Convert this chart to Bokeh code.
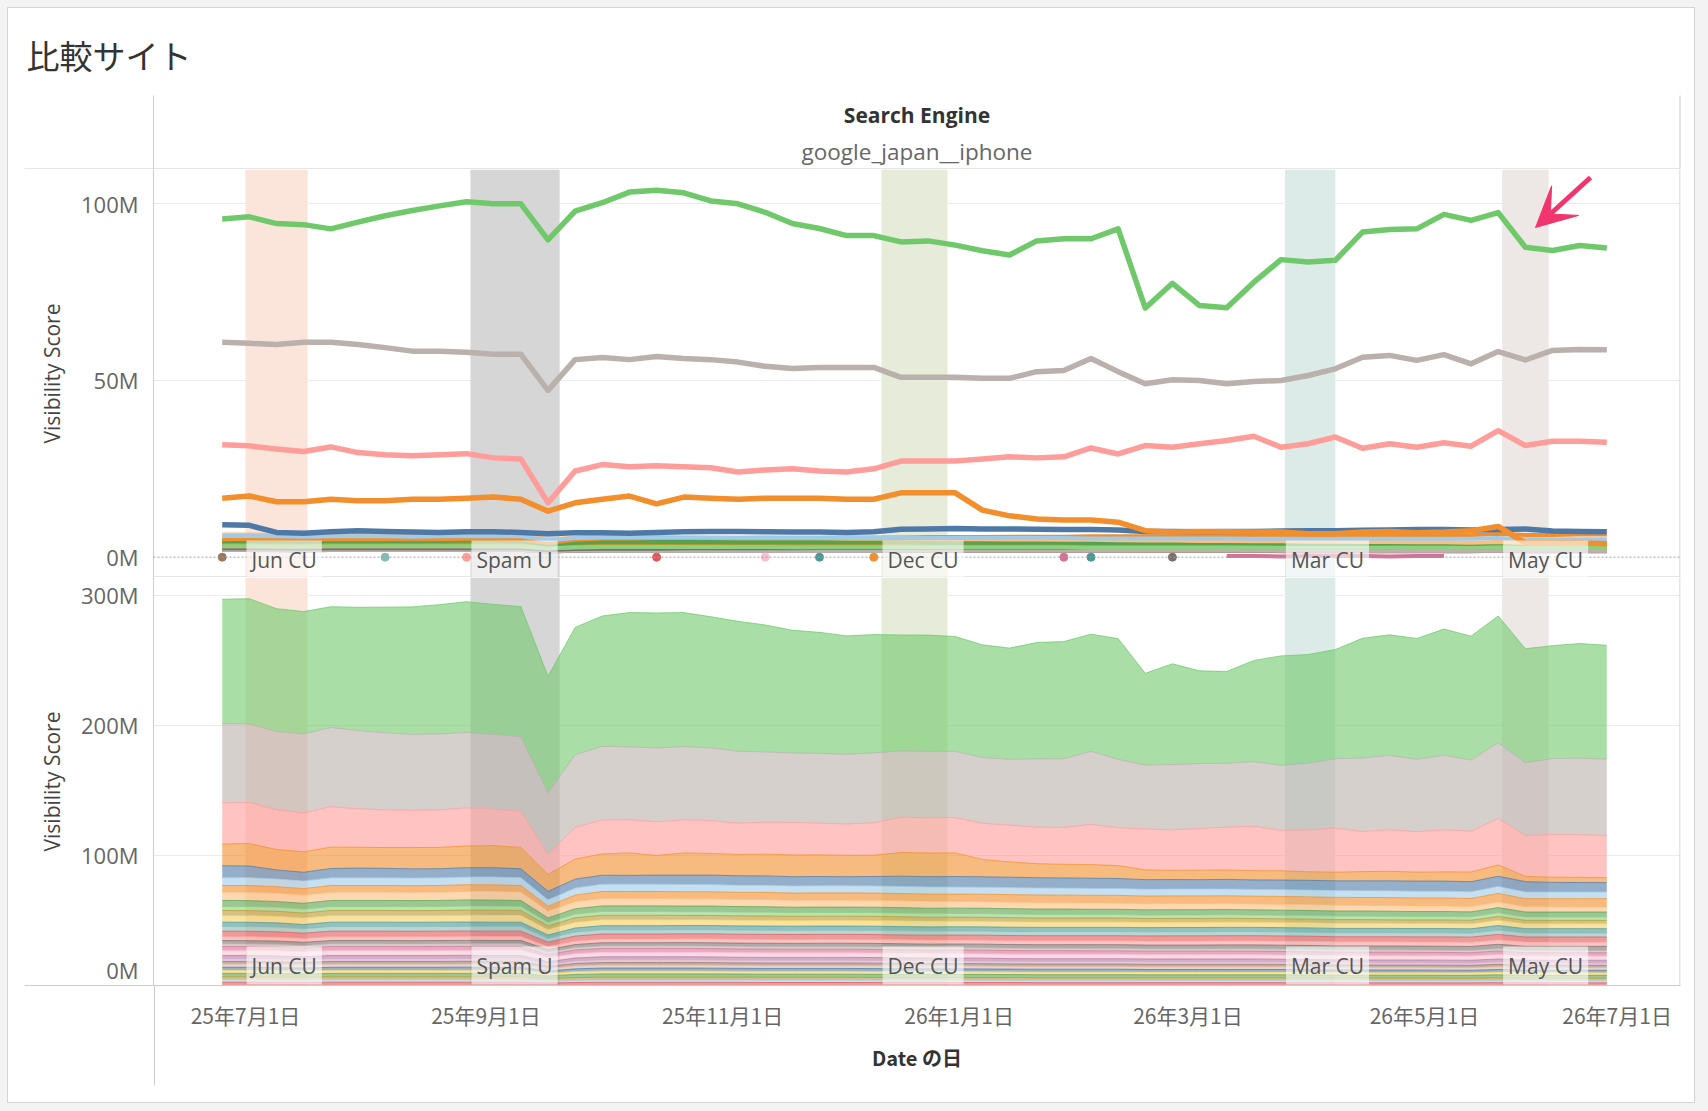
import pandas as pd
from bokeh.plotting import figure
from bokeh.models import (ColumnDataSource, BoxAnnotation, Label, Arrow, FixedTicker,
                          CustomJSTickFormatter, Range1d, Span, VeeHead)
from bokeh.layouts import column
from bokeh.embed import file_html
from bokeh.resources import INLINE

NA = float("nan")

# ---------------- data (values in millions) ----------------
dates = pd.date_range("2025-06-25", periods=52, freq="7D")

green = [95.7, 96.3, 94.4, 94.1, 92.9, 94.8, 96.6, 98.1, 99.4, 100.6, 100.0, 100.0,
         89.8, 97.9, 100.3, 103.3, 103.8, 103.1, 100.8, 100.0, 97.6, 94.4,
         93.0, 91.0, 91.0, 89.2, 89.5, 88.3, 86.7, 85.5, 89.5, 90.1,
         90.1, 92.9, 70.5, 77.5, 71.2, 70.6, 77.8, 84.2, 83.5, 84.0,
         92.0, 92.7, 92.9, 97.0, 95.3, 97.5, 87.7, 86.8, 88.2, 87.5]
gray = [60.8, 60.5, 60.2, 60.8, 60.8, 60.2, 59.3, 58.3, 58.3, 58.0, 57.4, 57.4,
        47.2, 55.9, 56.5, 55.9, 56.8, 56.2, 55.9, 55.2, 54.0, 53.4,
        53.7, 53.7, 53.7, 50.9, 50.9, 50.9, 50.6, 50.6, 52.5, 52.8,
        56.2, 52.5, 49.1, 50.2, 50.0, 49.1, 49.7, 50.0, 51.4, 53.3,
        56.6, 57.1, 55.7, 57.3, 54.7, 58.2, 55.8, 58.5, 58.8, 58.7]
pink = [31.8, 31.5, 30.6, 29.9, 31.2, 29.6, 29.0, 28.7, 29.0, 29.3, 28.1, 27.8,
        15.4, 24.4, 26.2, 25.6, 25.9, 25.6, 25.3, 24.1, 24.7, 25.0,
        24.4, 24.1, 25.0, 27.2, 27.2, 27.2, 27.8, 28.4, 28.1, 28.4,
        30.9, 29.2, 31.6, 31.1, 32.1, 33.0, 34.2, 31.1, 32.1, 34.0,
        30.8, 32.1, 31.1, 32.4, 31.4, 35.8, 31.6, 32.8, 32.8, 32.5]
orange = [16.7, 17.3, 15.7, 15.7, 16.4, 16.0, 16.0, 16.4, 16.4, 16.7, 17.0, 16.4,
          13.0, 15.4, 16.4, 17.3, 15.1, 17.0, 16.7, 16.4, 16.7, 16.7,
          16.7, 16.4, 16.4, 18.2, 18.2, 18.2, 13.3, 11.7, 10.8, 10.5,
          10.5, 9.9, 7.5, 7.1, 7.3, 7.2, 7.1, 7.1, 6.6, 6.6,
          7.1, 7.3, 6.9, 7.1, 7.5, 8.7, 4.0, 4.0, 4.0, 3.8]
blue = [9.2, 9.0, 7.0, 6.8, 7.2, 7.5, 7.3, 7.1, 7.0, 7.2, 7.2, 7.0,
        6.6, 6.9, 6.9, 6.8, 7.0, 7.2, 7.3, 7.3, 7.2, 7.1,
        7.1, 7.0, 7.2, 7.9, 8.0, 8.1, 8.0, 8.0, 7.9, 7.8,
        7.8, 7.7, 7.3, 7.3, 7.2, 7.3, 7.3, 7.4, 7.5, 7.5,
        7.6, 7.7, 7.8, 7.8, 7.7, 7.8, 8.0, 7.4, 7.3, 7.2]

s01 = [6.0, 6.0, 5.9, 5.8, 5.9, 5.9, 5.9, 5.8, 5.9, 5.9, 6.0, 5.9, 4.8, 5.4,
       5.6, 5.6, 5.6, 5.6, 5.5, 5.5, 5.5, 5.5, 5.5, 5.5, 5.5, 5.5, 5.4, 5.4, 5.4, 5.4, 5.4, 5.4, 5.3, 5.3,
       5.3, 5.3, 5.3, 5.3, 5.2, 5.2, 5.2, 5.2, 5.2, 5.2, 5.2, 5.2, 5.2, 5.4, 5.1, 5.1, 5.1, 5.1]
s02 = [5.1, 5.2, 5.1, 5.0, 5.1, 5.1, 5.1, 5.1, 5.1, 5.2, 5.2, 5.1, 4.0, 4.9,
       5.3, 5.3, 5.4, 5.4, 5.4, 5.4, 5.5, 5.5, 5.5, 5.6, 5.6, 5.6, 5.7, 5.7, 5.7, 5.8, 5.8, 5.8, 5.9, 5.9,
       5.9, 5.9, 6.0, 6.0, 6.0, 6.1, 6.1, 6.1, 6.1, 6.2, 6.2, 6.2, 6.2, 6.6, 6.3, 6.3, 6.4, 6.4]
s03 = [6.4, 6.4, 6.3, 6.3, 6.4, 6.4, 6.4, 6.4, 6.4, 6.5, 6.5, 6.4, 5.0, 5.6,
       5.8, 5.8, 5.7, 5.6, 5.6, 5.5, 5.5, 5.4, 5.4, 5.3, 5.3, 5.2, 5.2, 5.1, 5.1, 5.0, 5.0, 4.9, 4.9, 4.8,
       4.7, 4.7, 4.6, 4.6, 4.5, 4.5, 4.4, 4.4, 4.3, 4.3, 4.2, 4.2, 4.1, 4.3, 4.0, 4.0, 3.9, 3.9]
s04 = [4.6, 4.6, 4.5, 4.5, 4.6, 4.6, 4.6, 4.6, 4.6, 4.7, 4.7, 4.6, 3.6, 4.1,
       4.3, 4.3, 4.3, 4.3, 4.3, 4.2, 4.2, 4.2, 4.2, 4.2, 4.2, 4.2, 4.1, 4.1, 4.1, 4.1, 4.1, 4.1, 4.0, 4.0,
       4.0, 4.0, 4.0, 4.0, 4.0, 3.9, 3.9, 3.9, 3.9, 3.9, 3.9, 3.9, 3.8, 4.0, 3.8, 3.8, 3.8, 3.8]
s05 = [3.1, 3.1, 3.0, 3.0, 3.1, 3.1, 3.1, 3.1, 3.1, 3.1, 3.1, 3.1, 2.5, 2.8,
       2.9, 2.9, 2.9, 2.9, 2.9, 2.9, 2.9, 2.8, 2.8, 2.8, 2.8, 2.8, 2.8, 2.8, 2.8, 2.8, 2.8, 2.8, 2.7, 2.7,
       2.7, 2.7, 2.7, 2.7, 2.7, 2.7, 2.7, 2.7, 2.7, 2.7, 2.6, 2.6, 2.6, 2.8, 2.6, 2.6, 2.6, 2.6]
s06 = [3.9, 3.9, 3.9, 3.8, 3.9, 3.9, 3.9, 3.9, 3.9, 4.0, 4.0, 3.9, 3.1, 3.4,
       3.4, 3.4, 3.4, 3.3, 3.3, 3.3, 3.3, 3.2, 3.2, 3.2, 3.2, 3.2, 3.1, 3.1, 3.1, 3.1, 3.0, 3.0, 3.0, 3.0,
       2.9, 2.9, 2.9, 2.9, 2.8, 2.8, 2.8, 2.8, 2.8, 2.7, 2.7, 2.7, 2.7, 2.9, 2.6, 2.6, 2.6, 2.6]
s07 = [5.1, 5.1, 5.0, 5.0, 5.1, 5.1, 5.1, 5.1, 5.1, 5.2, 5.2, 5.1, 4.0, 4.5,
       4.6, 4.6, 4.6, 4.5, 4.5, 4.5, 4.5, 4.4, 4.4, 4.4, 4.4, 4.4, 4.3, 4.3, 4.3, 4.3, 4.2, 4.2, 4.2, 4.2,
       4.1, 4.1, 4.1, 4.1, 4.0, 4.0, 4.0, 4.0, 4.0, 3.9, 3.9, 3.9, 3.9, 4.1, 3.8, 3.8, 3.8, 3.8]
s08 = [3.3, 3.3, 3.3, 3.2, 3.3, 3.3, 3.3, 3.3, 3.3, 3.3, 3.3, 3.3, 2.6, 3.0,
       3.1, 3.1, 3.1, 3.1, 3.1, 3.1, 3.1, 3.1, 3.1, 3.1, 3.2, 3.2, 3.2, 3.2, 3.2, 3.2, 3.2, 3.2, 3.2, 3.2,
       3.2, 3.2, 3.2, 3.2, 3.2, 3.2, 3.3, 3.3, 3.3, 3.3, 3.3, 3.3, 3.3, 3.5, 3.3, 3.3, 3.3, 3.3]
s09 = [3.6, 3.6, 3.6, 3.5, 3.6, 3.6, 3.6, 3.6, 3.6, 3.6, 3.6, 3.6, 2.9, 3.2,
       3.3, 3.3, 3.3, 3.3, 3.3, 3.3, 3.3, 3.3, 3.3, 3.3, 3.2, 3.2, 3.2, 3.2, 3.2, 3.2, 3.2, 3.2, 3.2, 3.2,
       3.2, 3.2, 3.2, 3.2, 3.2, 3.2, 3.1, 3.1, 3.1, 3.1, 3.1, 3.1, 3.1, 3.3, 3.1, 3.1, 3.1, 3.1]
s10 = [4.1, 4.1, 4.1, 4.0, 4.1, 4.1, 4.1, 4.1, 4.1, 4.1, 4.1, 4.1, 3.3, 3.7,
       3.8, 3.8, 3.8, 3.8, 3.8, 3.8, 3.8, 3.8, 3.8, 3.8, 3.8, 3.8, 3.8, 3.8, 3.8, 3.8, 3.8, 3.8, 3.8, 3.8,
       3.9, 3.9, 3.9, 3.9, 3.9, 3.9, 3.9, 3.9, 3.9, 3.9, 3.9, 3.9, 3.9, 4.1, 3.9, 3.9, 3.9, 3.9]
s11 = [3.1, 3.1, 3.0, 3.0, 3.1, 3.1, 3.1, 3.1, 3.1, 3.1, 3.1, 3.1, 2.5, 2.8,
       2.9, 2.9, 2.9, 2.9, 3.0, 3.0, 3.0, 3.0, 3.0, 3.0, 3.0, 3.0, 3.1, 3.1, 3.1, 3.1, 3.1, 3.1, 3.1, 3.1,
       3.1, 3.2, 3.2, 3.2, 3.2, 3.2, 3.2, 3.2, 3.2, 3.2, 3.2, 3.3, 3.3, 3.5, 3.3, 3.3, 3.3, 3.3]
s12 = [2.5, 2.5, 2.5, 2.4, 2.5, 2.5, 2.5, 2.5, 2.5, 2.5, 2.5, 2.5, 2.0, 2.3,
       2.4, 2.4, 2.4, 2.5, 2.5, 2.5, 2.5, 2.5, 2.6, 2.6, 2.6, 2.6, 2.6, 2.7, 2.7, 2.7, 2.7, 2.7, 2.8, 2.8,
       2.8, 2.8, 2.8, 2.9, 2.9, 2.9, 2.9, 2.9, 3.0, 3.0, 3.0, 3.0, 3.0, 3.2, 3.1, 3.1, 3.1, 3.1]
s13 = [2.1, 2.1, 2.1, 2.0, 2.1, 2.1, 2.1, 2.1, 2.1, 2.1, 2.1, 2.1, 1.7, 1.9,
       2.0, 2.0, 2.0, 2.0, 2.0, 2.0, 2.0, 2.0, 2.0, 2.0, 2.0, 2.0, 1.9, 1.9, 1.9, 1.9, 1.9, 1.9, 1.9, 1.9,
       1.9, 1.9, 1.9, 1.9, 1.9, 1.9, 1.9, 1.8, 1.8, 1.8, 1.8, 1.8, 1.8, 1.9, 1.8, 1.8, 1.8, 1.8]
s14 = [3.1, 3.0, 3.0, 3.0, 3.1, 3.1, 3.1, 3.0, 3.1, 3.1, 3.1, 3.1, 2.5, 2.8,
       2.9, 2.9, 2.9, 2.9, 2.9, 2.9, 2.9, 2.8, 2.8, 2.8, 2.8, 2.8, 2.8, 2.8, 2.8, 2.8, 2.8, 2.8, 2.7, 2.7,
       2.7, 2.7, 2.7, 2.7, 2.7, 2.7, 2.7, 2.7, 2.7, 2.7, 2.6, 2.6, 2.6, 2.8, 2.6, 2.6, 2.6, 2.6]
s15 = [3.8, 3.8, 3.8, 3.7, 3.8, 3.8, 3.8, 3.8, 3.8, 3.8, 3.8, 3.8, 3.0, 3.4,
       3.5, 3.5, 3.5, 3.5, 3.5, 3.5, 3.5, 3.5, 3.5, 3.5, 3.5, 3.4, 3.4, 3.4, 3.4, 3.4, 3.4, 3.4, 3.4, 3.4,
       3.3, 3.3, 3.3, 3.3, 3.3, 3.3, 3.3, 3.3, 3.3, 3.3, 3.3, 3.3, 3.2, 3.4, 3.2, 3.2, 3.2, 3.2]
s16 = [2.4, 2.4, 2.4, 2.3, 2.4, 2.4, 2.4, 2.4, 2.4, 2.4, 2.4, 2.4, 1.9, 2.2,
       2.3, 2.3, 2.3, 2.3, 2.3, 2.2, 2.2, 2.2, 2.2, 2.2, 2.2, 2.2, 2.2, 2.2, 2.2, 2.1, 2.1, 2.1, 2.1, 2.1,
       2.1, 2.1, 2.1, 2.1, 2.1, 2.1, 2.1, 2.0, 2.0, 2.0, 2.0, 2.0, 2.0, 2.1, 2.0, 2.0, 2.0, 2.0]
s17 = [2.2, 2.2, 2.2, 2.1, 2.2, 2.2, 2.2, 2.2, 2.2, 2.2, 2.2, 2.2, 1.7, 2.0,
       2.1, 2.1, 2.1, 2.1, 2.1, 2.1, 2.1, 2.1, 2.1, 2.1, 2.1, 2.1, 2.0, 2.0, 2.0, 2.0, 2.0, 2.0, 2.0, 2.0,
       2.0, 2.0, 2.0, 2.0, 2.0, 1.9, 1.9, 1.9, 1.9, 1.9, 1.9, 1.9, 1.9, 2.0, 1.9, 1.9, 1.9, 1.9]
s18 = [2.0, 2.0, 2.0, 1.9, 2.0, 2.0, 2.0, 2.0, 2.0, 2.0, 2.0, 2.0, 1.6, 1.8,
       1.9, 1.9, 1.9, 1.9, 1.9, 1.9, 1.9, 1.9, 1.9, 1.9, 1.9, 1.9, 1.8, 1.8, 1.8, 1.8, 1.8, 1.8, 1.8, 1.8,
       1.8, 1.8, 1.8, 1.8, 1.8, 1.7, 1.7, 1.7, 1.7, 1.7, 1.7, 1.7, 1.7, 1.8, 1.7, 1.7, 1.7, 1.7]
s19 = [2.5, 2.5, 2.5, 2.4, 2.5, 2.5, 2.5, 2.5, 2.5, 2.5, 2.5, 2.5, 2.0, 2.3,
       2.4, 2.4, 2.4, 2.4, 2.4, 2.3, 2.3, 2.3, 2.3, 2.3, 2.3, 2.3, 2.3, 2.3, 2.3, 2.2, 2.2, 2.2, 2.2, 2.2,
       2.2, 2.2, 2.2, 2.2, 2.2, 2.2, 2.2, 2.1, 2.1, 2.1, 2.1, 2.1, 2.1, 2.2, 2.1, 2.1, 2.1, 2.1]
s20 = [2.3, 2.3, 2.3, 2.2, 2.3, 2.3, 2.3, 2.3, 2.3, 2.3, 2.3, 2.3, 1.8, 2.1,
       2.2, 2.2, 2.2, 2.2, 2.2, 2.2, 2.2, 2.2, 2.2, 2.2, 2.2, 2.1, 2.1, 2.1, 2.1, 2.1, 2.1, 2.1, 2.1, 2.1,
       2.0, 2.0, 2.0, 2.0, 2.0, 2.0, 2.0, 2.0, 2.0, 2.0, 2.0, 2.0, 1.9, 2.0, 1.9, 1.9, 1.9, 1.9]
s21 = [2.4, 2.4, 2.3, 2.3, 2.4, 2.4, 2.4, 2.4, 2.4, 2.5, 2.4, 2.4, 1.9, 2.2,
       2.3, 2.3, 2.3, 2.3, 2.2, 2.2, 2.2, 2.2, 2.2, 2.2, 2.2, 2.2, 2.2, 2.2, 2.1, 2.1, 2.1, 2.1, 2.1, 2.1,
       2.1, 2.1, 2.1, 2.1, 2.1, 2.1, 2.0, 2.0, 2.0, 2.0, 2.0, 2.0, 2.0, 2.1, 2.0, 2.0, 2.0, 2.0]
s22 = [2.6, 2.6, 2.6, 2.5, 2.6, 2.6, 2.6, 2.6, 2.6, 2.6, 2.6, 2.6, 2.1, 2.4,
       2.5, 2.5, 2.5, 2.5, 2.5, 2.4, 2.4, 2.4, 2.4, 2.4, 2.4, 2.4, 2.4, 2.4, 2.4, 2.3, 2.3, 2.3, 2.3, 2.3,
       2.3, 2.3, 2.3, 2.3, 2.3, 2.3, 2.3, 2.2, 2.2, 2.2, 2.2, 2.2, 2.2, 2.3, 2.2, 2.2, 2.2, 2.2]
s23 = [2.2, 2.2, 2.2, 2.1, 2.2, 2.2, 2.2, 2.2, 2.2, 2.2, 2.2, 2.2, 1.7, 2.0,
       2.1, 2.1, 2.1, 2.1, 2.1, 2.1, 2.1, 2.1, 2.1, 2.1, 2.0, 2.0, 2.0, 2.0, 2.0, 2.0, 2.0, 2.0, 2.0, 2.0,
       1.9, 1.9, 1.9, 1.9, 1.9, 1.9, 1.9, 1.9, 1.9, 1.9, 1.9, 1.8, 1.8, 1.9, 1.8, 1.8, 1.8, 1.8]
s24 = [2.0, 2.0, 1.9, 1.9, 2.0, 2.0, 2.0, 2.0, 2.0, 2.0, 2.0, 2.0, 1.6, 1.8,
       1.9, 1.9, 1.9, 1.9, 1.9, 1.9, 1.9, 1.9, 1.9, 1.9, 1.9, 1.8, 1.8, 1.8, 1.8, 1.8, 1.8, 1.8, 1.8, 1.8,
       1.8, 1.8, 1.8, 1.8, 1.8, 1.8, 1.7, 1.7, 1.7, 1.7, 1.7, 1.7, 1.7, 1.8, 1.7, 1.7, 1.7, 1.7]
s25 = [2.5, 2.5, 2.4, 2.4, 2.5, 2.5, 2.5, 2.5, 2.5, 2.5, 2.5, 2.5, 2.0, 2.3,
       2.4, 2.4, 2.4, 2.4, 2.4, 2.4, 2.3, 2.3, 2.3, 2.3, 2.3, 2.3, 2.3, 2.3, 2.3, 2.3, 2.2, 2.2, 2.2, 2.2,
       2.2, 2.2, 2.2, 2.2, 2.2, 2.2, 2.2, 2.2, 2.1, 2.1, 2.1, 2.1, 2.1, 2.2, 2.1, 2.1, 2.1, 2.1]
pink_short = [NA, NA, NA, NA, NA, NA, NA, NA, NA, NA, NA, NA, NA, NA, NA, NA, NA, NA, NA, NA,
              NA, NA, NA, NA, NA, NA, NA, NA, NA, NA, NA, NA, NA, NA, NA, NA, NA,
              0.3, 0.3, 0.2, 0.3, 0.3, 0.3, 0.2, 0.3, 0.3, NA, NA, NA, NA, NA, NA]

big_names = ["blue", "orange", "pink", "gray", "green"]
big_values = [blue, orange, pink, gray, green]
big_colors = ["#4e79a7", "#f28e2b", "#ff9d9a", "#bab0ac", "#6fc96b"]

small_values = [s01, s02, s03, s04, s05, s06, s07, s08, s09, s10, s11, s12, s13,
                s14, s15, s16, s17, s18, s19, s20, s21, s22, s23, s24, s25]
small_colors = ["#a0cbe8", "#f28e2b", "#ffbe7d", "#59a14f", "#8cd17d", "#b6992d", "#f1ce63",
                "#499894", "#86bcb6", "#e15759", "#ff9d9a", "#79706e", "#bab0ac", "#d37295",
                "#fabfd2", "#b07aa1", "#d4a6c8", "#9d7660", "#d7b5a6", "#4e79a7", "#f1ce63",
                "#59a14f", "#b6992d", "#a0cbe8", "#e15759"]

dot_idx = [0, 6, 9, 16, 20, 22, 24, 31, 32, 35]
dot_val = [0.0, 0.0, 0.0, 0.0, 0.0, 0.0, 0.0, 0.0, 0.0, 0.0]
dot_colors = ["#9d7660", "#86bcb6", "#ff9d9a", "#e15759", "#fabfd2", "#499894",
              "#f28e2b", "#d37295", "#499894", "#79706e"]

event_names = ["Jun CU", "Spam U", "Dec CU", "Mar CU", "May CU"]
event_start = ["2025-07-01", "2025-08-28", "2025-12-12", "2026-03-26", "2026-05-21"]
event_end = ["2025-07-17", "2025-09-20", "2025-12-29", "2026-04-08", "2026-06-02"]
event_colors = ["#fbe4da", "#d6d6d6", "#e7ebda", "#dcebe8", "#ede8e5"]

x_tick_dates = ["2025-07-01", "2025-09-01", "2025-11-01", "2026-01-01",
                "2026-03-01", "2026-05-01", "2026-07-01"]
x_tick_labels = ["25年7月1日", "25年9月1日", "25年11月1日", "26年1月1日",
                 "26年3月1日", "26年5月1日", "26年7月1日"]
top_ticks = [0, 50, 100]
top_tick_labels = ["0M", "50M", "100M"]
bot_ticks = [0, 100, 200, 300]
bot_tick_labels = ["0M", "100M", "200M", "300M"]

# ---------------- layout constants ----------------
W = 1686
FL, FR = 145, 14
FRAME_W = W - FL - FR
HDR_H = 161
FRAME_H = 408
BOT_H, BOT_BORDER = 525, 117
SEP = "#cccccc"
LATIN = "Open Sans"
CJK = "Noto Sans CJK JP"
ARROW_PINK = "#f2356e"

EPOCH = pd.Timestamp("1970-01-01")
def ms(t):
    return (pd.Timestamp(t) - EPOCH) / pd.Timedelta(milliseconds=1)

ref = pd.Timestamp("2025-07-01")
x0m = ms(ref - pd.Timedelta(days=23.72))
x1m = ms(ref + pd.Timedelta(days=370.0))
px_ms = (x1m - x0m) / FRAME_W
xr = Range1d(start=x0m, end=x1m)

TOP_Y0, TOP_Y1 = -5.75, 109.7
BOT_Y0, BOT_Y1 = 0.0, 313.8
top_px = (TOP_Y1 - TOP_Y0) / FRAME_H
bot_px = (BOT_Y1 - BOT_Y0) / FRAME_H

data = dict(date=dates)
for n, v in zip(big_names, big_values):
    data[n] = v
small_names = []
for i, v in enumerate(small_values):
    nm = "s%02d" % (i + 1)
    small_names.append(nm)
    data[nm] = v
src = ColumnDataSource(data)


def make_fig(h, bot_b, y0, y1):
    p = figure(width=W, height=h, x_range=xr, y_range=Range1d(y0, y1),
               x_axis_type="datetime", toolbar_location=None, output_backend="svg",
               min_border_left=FL, min_border_right=FR, min_border_top=0,
               min_border_bottom=bot_b, background_fill_color="white",
               border_fill_color="white", outline_line_color=None)
    p.xgrid.grid_line_color = None
    p.ygrid.grid_line_color = "#ebebeb"
    p.yaxis.axis_line_color = SEP
    p.yaxis.major_tick_line_color = None
    p.yaxis.major_tick_out = 0
    p.yaxis.major_tick_in = 0
    # minor tick drawn outward (negative "in") to extend the pane separator to the left
    p.yaxis.minor_tick_line_color = SEP
    p.yaxis.minor_tick_out = 0
    p.yaxis.minor_tick_in = -(FL - 16)
    p.yaxis.major_label_standoff = 15
    p.yaxis.major_label_text_font = LATIN
    p.yaxis.major_label_text_font_size = "22px"
    p.yaxis.major_label_text_color = "#666666"
    p.yaxis.axis_label = "Visibility Score"
    p.yaxis.axis_label_text_font = LATIN
    p.yaxis.axis_label_text_font_size = "21px"
    p.yaxis.axis_label_text_font_style = "normal"
    p.yaxis.axis_label_text_color = "#444444"
    p.yaxis.axis_label_standoff = 12
    for s, e, c in zip(event_start, event_end, event_colors):
        p.add_layout(BoxAnnotation(left=ms(s), right=ms(e), fill_color=c, fill_alpha=1.0,
                                   line_alpha=0, level="underlay"))
    p.add_layout(Arrow(start=None, end=None, x_start=x1m - 0.5 * px_ms, y_start=y0,
                       x_end=x1m - 0.5 * px_ms, y_end=y1, line_color=SEP, line_width=1))
    return p


def event_labels(p, y0, yoff):
    for n, s in zip(event_names, event_start):
        p.add_layout(Label(x=ms(s), y=y0, x_offset=1, y_offset=yoff, text=n,
                           text_align="left", text_baseline="bottom",
                           text_font=LATIN, text_font_size="21px", text_color="#555555",
                           background_fill_color="white", background_fill_alpha=0.6,
                           padding=5))


def tick_fmt(vals, labs):
    return CustomJSTickFormatter(args=dict(vals=vals, labs=labs),
                                 code="const i = vals.indexOf(tick); return i >= 0 ? labs[i] : '';")


# ---------------- header ----------------
hdr = figure(width=W, height=HDR_H, x_range=Range1d(0, W), y_range=Range1d(HDR_H, 0),
             toolbar_location=None, output_backend="svg", min_border=0,
             x_axis_location=None, y_axis_location=None, outline_line_color=None,
             background_fill_color="white", border_fill_color="white", frame_align=False)
hdr.grid.visible = False
hdr.add_layout(Label(x=18, y=46, text="比較サイト", text_align="left", text_baseline="middle",
                     text_font=CJK, text_font_size="33px", text_color="#333333"))
hdr.add_layout(Label(x=FL + FRAME_W / 2, y=106, text="Search Engine", text_align="center",
                     text_baseline="middle", text_font=LATIN, text_font_size="21px",
                     text_font_style="bold", text_color="#333333"))
hdr.add_layout(Label(x=FL + FRAME_W / 2, y=143, text="google_japan__iphone",
                     text_align="center", text_baseline="middle", text_font=LATIN,
                     text_font_size="22.5px", text_color="#666666"))
hdr.segment(x0=[FL, 16, FL + FRAME_W - 0.5], y0=[87, HDR_H - 0.5, 87],
            x1=[FL, FL + FRAME_W, FL + FRAME_W - 0.5], y1=[HDR_H, HDR_H - 0.5, HDR_H],
            line_color=SEP, line_width=1)

# ---------------- top panel: lines ----------------
top = make_fig(FRAME_H, 0, TOP_Y0, TOP_Y1)
top.xaxis.visible = False
top.yaxis.ticker = FixedTicker(ticks=top_ticks, minor_ticks=[TOP_Y0 + 0.5 * top_px])
top.ygrid.ticker = FixedTicker(ticks=top_ticks[1:])
top.yaxis.formatter = tick_fmt(top_ticks, top_tick_labels)
top.add_layout(Span(location=0, dimension="width", line_color="#a0a0a0",
                    line_dash="2 2", line_width=1))
top.add_layout(Arrow(start=None, end=None, x_start=x0m, y_start=TOP_Y0 + 0.5 * top_px,
                     x_end=x1m, y_end=TOP_Y0 + 0.5 * top_px, line_color=SEP, line_width=1))

for nm, c in reversed(list(zip(small_names, small_colors))):
    top.line("date", nm, source=src, color=c, line_width=4, line_join="round")
top.line(dates, pink_short, color="#d37295", line_width=4, line_join="round")
top.scatter([dates[i] for i in dot_idx], dot_val, size=8, color=dot_colors)
for nm, c in zip(big_names, big_colors):
    top.line("date", nm, source=src, color=c, line_width=5.5, line_join="round")

event_labels(top, TOP_Y0, -1)

# hand-drawn callout arrow pointing at the drop after the May core update
top.add_layout(Arrow(end=VeeHead(size=40, fill_color=ARROW_PINK, line_color=ARROW_PINK,
                                 line_width=1),
                     start=None,
                     x_start=x0m + 1437 * px_ms, y_start=TOP_Y1 - 8 * top_px,
                     x_end=x0m + 1382 * px_ms, y_end=TOP_Y1 - 58 * top_px,
                     line_color=ARROW_PINK, line_width=5))

# ---------------- bottom panel: stacked areas ----------------
bot = make_fig(BOT_H, BOT_BORDER, BOT_Y0, BOT_Y1)
zero_pos = BOT_Y0 + 16 * bot_px   # Tableau nudges the bottom "0M" label up inside the pane
bot.yaxis.ticker = FixedTicker(ticks=[zero_pos] + bot_ticks[1:],
                               minor_ticks=[BOT_Y0 + 0.5 * bot_px])
bot.ygrid.ticker = FixedTicker(ticks=bot_ticks[1:])
bot.yaxis.formatter = tick_fmt([zero_pos] + bot_ticks[1:], bot_tick_labels)

stackers = list(reversed(small_names)) + big_names
stack_colors = list(reversed(small_colors)) + big_colors
bot.varea_stack(stackers, x="date", color=stack_colors, fill_alpha=0.6, source=src)
bot.vline_stack(stackers, x="date", color=stack_colors, line_width=1, line_alpha=0.75,
                source=src)

event_labels(bot, BOT_Y0, 1)

x_major = [ms(d) for d in x_tick_dates[:-1]] + [ms(x_tick_dates[-1]) - 44 * px_ms]
bot.xaxis.ticker = FixedTicker(ticks=x_major, minor_ticks=[x0m + 0.5 * px_ms])
bot.xaxis.formatter = tick_fmt(x_major, x_tick_labels)
bot.xaxis.axis_line_color = SEP
bot.xaxis.major_tick_line_color = None
bot.xaxis.major_tick_out = 6
bot.xaxis.major_tick_in = 0
bot.xaxis.minor_tick_line_color = SEP
bot.xaxis.minor_tick_out = 0
bot.xaxis.minor_tick_in = -100
bot.xaxis.major_label_standoff = 8
bot.xaxis.major_label_text_font = CJK
bot.xaxis.major_label_text_font_size = "21px"
bot.xaxis.major_label_text_color = "#666666"
bot.xaxis.axis_label = "Date の日"
bot.xaxis.axis_label_text_font = CJK
bot.xaxis.axis_label_text_font_size = "20px"
bot.xaxis.axis_label_text_font_style = "bold"
bot.xaxis.axis_label_text_color = "#333333"
bot.xaxis.axis_label_standoff = 10

card = column(hdr, top, bot, spacing=0,
              styles={"border": "1px solid #d4d4d4", "background-color": "white"})
page = column(card, styles={"padding": "7px 13px 8px 7px", "background-color": "#f3f3f3"})

open("out.html", "w").write(file_html(page, INLINE))
